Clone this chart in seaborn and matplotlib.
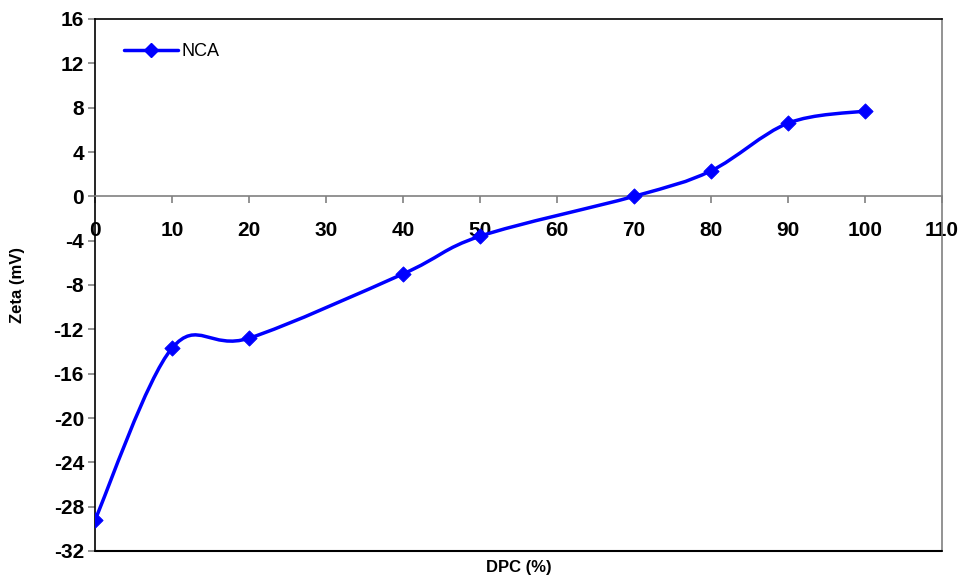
import numpy as np
import pandas as pd
import seaborn as sns
import matplotlib.pyplot as plt
from matplotlib.path import Path
from matplotlib.patches import PathPatch
from matplotlib.lines import Line2D

# dados
dpc = [0, 10, 20, 40, 50, 70, 80, 90, 100]
zeta = [-29.2, -13.7, -12.8, -7.0, -3.6, 0.0, 2.3, 6.6, 7.7]
serie = 'NCA'

azul = '#0000FF'

sns.set_style("white")
plt.rcParams['font.family'] = ['Liberation Sans', 'DejaVu Sans']
plt.rcParams['axes.unicode_minus'] = False
plt.rcParams['text.color'] = 'black'
plt.rcParams['axes.labelcolor'] = 'black'
plt.rcParams['xtick.labelcolor'] = 'black'
plt.rcParams['ytick.labelcolor'] = 'black'

fig = plt.figure(figsize=(9.62, 5.78), dpi=100)
ax = fig.add_axes([95 / 962, 1 - 551 / 578, 847 / 962, 532 / 578])

df = pd.DataFrame({'DPC': dpc, 'Zeta': zeta})


def caminho_suave(x, y):
    '''Curva suavizada tipo Excel (Bezier com tensao 1/6)'''
    p = np.column_stack([x, y]).astype(float)
    n = len(p)
    verts = [p[0]]
    codes = [Path.MOVETO]
    for i in range(n - 1):
        a = p[i - 1] if i > 0 else p[i]
        d = p[i + 2] if i + 2 < n else p[i + 1]
        c1 = p[i] + (p[i + 1] - a) / 6
        c2 = p[i + 1] - (d - p[i]) / 6
        verts += [c1, c2, p[i + 1]]
        codes += [Path.CURVE4] * 3
    return Path(verts, codes)


ax.add_patch(PathPatch(caminho_suave(dpc, zeta), facecolor='none',
                       edgecolor=azul, lw=2.5, zorder=3))
sns.scatterplot(data=df, x='DPC', y='Zeta', marker='D', s=60, color=azul,
                edgecolor=azul, ax=ax, zorder=4, legend=False)

ax.set_xlim(0, 110)
ax.set_ylim(-32, 16)
ax.set_xticks(np.arange(0, 111, 10))
ax.set_yticks(np.arange(-32, 17, 4))

# eixo x cruzando em zero
ax.spines['bottom'].set_position(('data', 0))
ax.spines['bottom'].set_color('#808080')
ax.spines['right'].set_color('#808080')
ax.spines['top'].set_color('black')
ax.spines['left'].set_color('black')
for s in ax.spines.values():
    s.set_linewidth(1.2)
ax.axhline(-32, color='black', lw=1.5, clip_on=False, zorder=5)

ax.tick_params(axis='x', direction='out', length=5, width=1.2, color='#808080',
               pad=13, labelsize=15, bottom=True)
ax.tick_params(axis='y', direction='out', length=5, width=1.2, color='#808080',
               pad=3, labelsize=15, left=True)
for t in ax.get_xticklabels() + ax.get_yticklabels():
    t.set_fontweight('bold')

ax.set_xlabel('DPC (%)', fontsize=12, fontweight='bold')
ax.set_ylabel('Zeta (mV)', fontsize=12, fontweight='bold')
ax.xaxis.set_label_coords(0.5, -0.017)
ax.yaxis.set_label_coords(-0.083, 0.5)

h = Line2D([], [], color=azul, lw=2.5, marker='D', markersize=7)
ax.legend([h], [serie], loc='upper left', frameon=False, fontsize=13,
          bbox_to_anchor=(0.015, 0.985), handlelength=3, handletextpad=0.2)

plt.savefig('out.png', dpi=100)
